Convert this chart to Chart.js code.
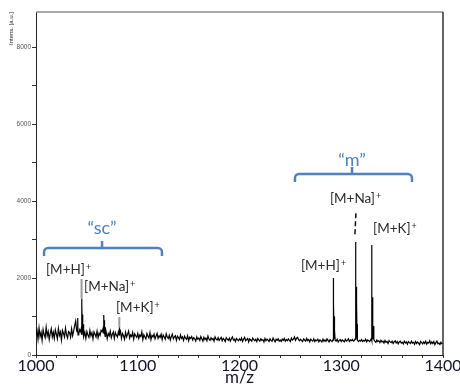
<!DOCTYPE html>
<html>
<head>
<meta charset="utf-8">
<script src="https://cdn.jsdelivr.net/npm/chart.js@4.4.1/dist/chart.umd.min.js"></script>
<style>
  body { margin: 0; background: #fff; }
  #wrap { width: 460px; height: 387px; position: relative; }
</style>
</head>
<body>
<div id="wrap"><canvas id="spectrum"></canvas></div>
<script>
// baseline of the spectrum, one reading per m/z
const baseMz = [
  1000, 1001, 1002, 1003, 1004, 1005, 1006, 1007, 1008, 1009, 1010, 1011, 1012, 1013, 1014, 1015, 1016, 1017, 1018, 1019,
  1020, 1021, 1022, 1023, 1024, 1025, 1026, 1027, 1028, 1029, 1030, 1031, 1032, 1033, 1034, 1035, 1036, 1037, 1038, 1039,
  1040, 1041, 1042, 1043, 1044, 1045, 1046, 1047, 1048, 1049, 1050, 1051, 1052, 1053, 1054, 1055, 1056, 1057, 1058, 1059,
  1060, 1061, 1062, 1063, 1064, 1065, 1066, 1067, 1068, 1069, 1070, 1071, 1072, 1073, 1074, 1075, 1076, 1077, 1078, 1079,
  1080, 1081, 1082, 1083, 1084, 1085, 1086, 1087, 1088, 1089, 1090, 1091, 1092, 1093, 1094, 1095, 1096, 1097, 1098, 1099,
  1100, 1101, 1102, 1103, 1104, 1105, 1106, 1107, 1108, 1109, 1110, 1111, 1112, 1113, 1114, 1115, 1116, 1117, 1118, 1119,
  1120, 1121, 1122, 1123, 1124, 1125, 1126, 1127, 1128, 1129, 1130, 1131, 1132, 1133, 1134, 1135, 1136, 1137, 1138, 1139,
  1140, 1141, 1142, 1143, 1144, 1145, 1146, 1147, 1148, 1149, 1150, 1151, 1152, 1153, 1154, 1155, 1156, 1157, 1158, 1159,
  1160, 1161, 1162, 1163, 1164, 1165, 1166, 1167, 1168, 1169, 1170, 1171, 1172, 1173, 1174, 1175, 1176, 1177, 1178, 1179,
  1180, 1181, 1182, 1183, 1184, 1185, 1186, 1187, 1188, 1189, 1190, 1191, 1192, 1193, 1194, 1195, 1196, 1197, 1198, 1199,
  1200, 1201, 1202, 1203, 1204, 1205, 1206, 1207, 1208, 1209, 1210, 1211, 1212, 1213, 1214, 1215, 1216, 1217, 1218, 1219,
  1220, 1221, 1222, 1223, 1224, 1225, 1226, 1227, 1228, 1229, 1230, 1231, 1232, 1233, 1234, 1235, 1236, 1237, 1238, 1239,
  1240, 1241, 1242, 1243, 1244, 1245, 1246, 1247, 1248, 1249, 1250, 1251, 1252, 1253, 1254, 1255, 1256, 1257, 1258, 1259,
  1260, 1261, 1262, 1263, 1264, 1265, 1266, 1267, 1268, 1269, 1270, 1271, 1272, 1273, 1274, 1275, 1276, 1277, 1278, 1279,
  1280, 1281, 1282, 1283, 1284, 1285, 1286, 1287, 1288, 1289, 1290, 1291, 1292, 1293, 1294, 1295, 1296, 1297, 1298, 1299,
  1300, 1301, 1302, 1303, 1304, 1305, 1306, 1307, 1308, 1309, 1310, 1311, 1312, 1313, 1314, 1315, 1316, 1317, 1318, 1319,
  1320, 1321, 1322, 1323, 1324, 1325, 1326, 1327, 1328, 1329, 1330, 1331, 1332, 1333, 1334, 1335, 1336, 1337, 1338, 1339,
  1340, 1341, 1342, 1343, 1344, 1345, 1346, 1347, 1348, 1349, 1350, 1351, 1352, 1353, 1354, 1355, 1356, 1357, 1358, 1359,
  1360, 1361, 1362, 1363, 1364, 1365, 1366, 1367, 1368, 1369, 1370, 1371, 1372, 1373, 1374, 1375, 1376, 1377, 1378, 1379,
  1380, 1381, 1382, 1383, 1384, 1385, 1386, 1387, 1388, 1389, 1390, 1391, 1392, 1393, 1394, 1395, 1396, 1397, 1398, 1399,
  1400
];
const baseIntens = [
  520, 640, 410, 700, 480, 590, 380, 660, 530, 450, 720, 500, 610, 400, 560, 680, 470, 590, 430, 650,
  540, 420, 690, 510, 600, 390, 640, 560, 470, 700, 520, 440, 610, 580, 460, 680, 500, 620, 760, 880,
  620, 700, 540, 660, 600, 520, 640, 480, 590, 430, 610, 520, 460, 640, 500, 580, 420, 600, 540, 470,
  620, 450, 570, 510, 640, 600, 700, 560, 480, 590, 420, 560, 500, 620, 450, 540, 600, 430, 580, 520,
  470, 600, 540, 620, 430, 560, 500, 410, 590, 470, 540, 620, 440, 520, 480, 590, 410, 550, 500, 460,
  560, 430, 520, 480, 600, 400, 530, 470, 420, 560, 490, 440, 580, 400, 510, 470, 540, 420, 490, 560,
  430, 500, 460, 540, 400, 520, 470, 410, 550, 460, 430, 510, 390, 480, 540, 420, 470, 500, 380, 490,
  450, 400, 520, 430, 470, 380, 490, 440, 410, 500, 370, 460, 430, 480, 390, 450, 420, 360, 470, 410,
  440, 380, 480, 420, 360, 460, 400, 440, 370, 490, 410, 380, 450, 400, 430, 360, 470, 410, 390, 450,
  380, 420, 460, 370, 430, 400, 350, 450, 410, 380, 440, 360, 420, 470, 390, 410, 350, 430, 400, 370,
  420, 380, 440, 350, 410, 460, 370, 400, 430, 340, 420, 390, 360, 440, 400, 370, 410, 350, 430, 390,
  360, 420, 380, 400, 340, 430, 370, 410, 390, 350, 420, 380, 360, 440, 390, 340, 410, 380, 420, 360,
  390, 350, 410, 380, 430, 360, 400, 370, 420, 380, 350, 440, 390, 410, 470, 380, 430, 460, 400, 370,
  410, 380, 350, 420, 390, 360, 430, 370, 400, 340, 410, 380, 360, 420, 350, 390, 370, 410, 340, 390,
  370, 340, 410, 360, 390, 350, 420, 380, 340, 400, 370, 350, 390, 420, 380, 360, 410, 340, 380, 400,
  350, 390, 370, 340, 410, 360, 380, 420, 350, 390, 370, 400, 360, 380, 420, 430, 390, 350, 380, 360,
  400, 350, 380, 360, 410, 340, 390, 370, 350, 400, 380, 410, 400, 360, 330, 390, 350, 370, 320, 380,
  340, 360, 310, 380, 330, 350, 300, 370, 340, 320, 360, 300, 340, 370, 310, 350, 290, 340, 360, 310,
  330, 290, 360, 310, 340, 280, 350, 320, 300, 360, 310, 330, 280, 350, 300, 340, 310, 270, 350, 320,
  290, 340, 300, 360, 280, 330, 310, 370, 290, 340, 300, 350, 270, 320, 360, 290, 310, 270, 330, 290,
  300
];
// peak points: "sc" ions, then "m" ions
const peakMz = [
  1040.6, 1041, 1041.3,
  1044.3, 1044.8, 1045.0, 1045.2, 1045.5, 1045.8, 1046.2, 1046.6,
  1066.4, 1066.8, 1067.0, 1067.3, 1067.7, 1068.1,
  1081.6, 1081.9, 1082.3,
  1291.9, 1292.2, 1292.45, 1292.7, 1292.95, 1293.2, 1293.5, 1293.8,
  1313.9, 1314.2, 1314.45, 1314.7, 1314.95, 1315.2, 1315.5, 1315.8,
  1329.6, 1329.9, 1330.15, 1330.4, 1330.65, 1330.9, 1331.2, 1331.5
];
const peakIntens = [
  600, 960, 520,
  650, 1470, 700, 1300, 640, 1050, 600, 800,
  560, 1040, 620, 900, 580, 720,
  520, 720, 560,
  400, 2000, 700, 1350, 600, 1000, 500, 650,
  430, 2935, 900, 1770, 700, 1300, 600, 800,
  430, 2860, 900, 1500, 650, 1100, 550, 750
];
const xTickLabels = [1000, 1100, 1200, 1300, 1400];
const yTickValues = [0, 1000, 2000, 3000, 4000, 5000, 6000, 7000, 8000];
const yTickLabels = [0, 2000, 4000, 6000, 8000];

// annotation layout (data coordinates)
const ionLabels = [
  { text: '[M+H]', mz: 1009.8, at: 2104 },
  { text: '[M+Na]', mz: 1047.2, at: 1662 },
  { text: '[M+K]', mz: 1078.6, at: 1117 },
  { text: '[M+H]', mz: 1260.4, at: 2208 },
  { text: '[M+Na]', mz: 1288.9, at: 3948 },
  { text: '[M+K]', mz: 1331.2, at: 3169 }
];
const leaders = [
  { mz: 1044.8, from: 1470, to: 1975 },
  { mz: 1081.9, from: 720, to: 990 }
];
const groups = [
  { name: '\u201csc\u201d', from: 1007.9, to: 1123.8, mid: 1064.9, at: 2779, textAt: 3299 },
  { name: '\u201cm\u201d', from: 1254.5, to: 1369.5, mid: 1310.6, at: 4701, textAt: 5065 }
];

const points = baseMz.map((x, i) => ({ x: x, y: baseIntens[i] }))
  .concat(peakMz.map((x, i) => ({ x: x, y: peakIntens[i] })))
  .sort((a, b) => a.x - b.x);

const blue = '#4f81bd';

function drawBrace(ctx, x1, x2, xc, yy) {
  const r = 4;
  ctx.beginPath();
  ctx.moveTo(x1, yy + 8);
  ctx.arcTo(x1, yy, x1 + r, yy, r);
  ctx.lineTo(x2 - r, yy);
  ctx.arcTo(x2, yy, x2, yy + 8, r);
  ctx.lineTo(x2, yy + 8);
  ctx.moveTo(xc, yy);
  ctx.lineTo(xc, yy - 7);
  ctx.stroke();
}

const decor = {
  id: 'decor',
  afterDraw(chart) {
    const { ctx, chartArea: a, scales: { x, y } } = chart;
    ctx.save();
    // frame top / right
    ctx.lineWidth = 1.5;
    ctx.strokeStyle = '#8a8a8a';
    ctx.beginPath(); ctx.moveTo(a.left, a.top); ctx.lineTo(a.right, a.top); ctx.stroke();
    ctx.strokeStyle = '#333';
    ctx.beginPath(); ctx.moveTo(a.right, a.top); ctx.lineTo(a.right, a.bottom); ctx.stroke();

    // grey leader lines on the labelled peaks
    ctx.strokeStyle = '#9a9a9a';
    ctx.lineWidth = 2;
    leaders.forEach(l => {
      const px = x.getPixelForValue(l.mz);
      ctx.beginPath();
      ctx.moveTo(px, y.getPixelForValue(l.from));
      ctx.lineTo(px, y.getPixelForValue(l.to));
      ctx.stroke();
    });

    // dashed mark above the m [M+Na]+ peak
    ctx.strokeStyle = '#111';
    ctx.lineWidth = 1.5;
    ctx.setLineDash([5, 3]);
    ctx.beginPath();
    ctx.moveTo(x.getPixelForValue(1314.4), y.getPixelForValue(3680));
    ctx.lineTo(x.getPixelForValue(1313.4), y.getPixelForValue(3100));
    ctx.stroke();
    ctx.setLineDash([]);

    // braces and group names
    ctx.strokeStyle = blue;
    ctx.lineWidth = 2.5;
    ctx.fillStyle = blue;
    ctx.textAlign = 'center';
    ctx.textBaseline = 'middle';
    ctx.font = '18px Lato';
    groups.forEach(g => {
      drawBrace(ctx, x.getPixelForValue(g.from), x.getPixelForValue(g.to),
        x.getPixelForValue(g.mid), y.getPixelForValue(g.at));
      ctx.fillText(g.name, x.getPixelForValue(g.mid), y.getPixelForValue(g.textAt));
    });

    // ion labels with superscript +
    ctx.fillStyle = '#2b2b2b';
    ctx.textAlign = 'left';
    ctx.textBaseline = 'alphabetic';
    ionLabels.forEach(l => {
      const px = x.getPixelForValue(l.mz);
      const py = y.getPixelForValue(l.at);
      ctx.font = '13.5px Lato';
      ctx.fillText(l.text, px, py);
      const w = ctx.measureText(l.text).width;
      ctx.font = '9px Lato';
      ctx.fillText('+', px + w + 1, py - 4);
    });
    ctx.restore();
  }
};

new Chart(document.getElementById('spectrum'), {
  type: 'line',
  data: {
    datasets: [{
      data: points,
      borderColor: '#000',
      borderWidth: 1.2,
      pointRadius: 0,
      tension: 0
    }]
  },
  options: {
    responsive: true,
    maintainAspectRatio: false,
    animation: false,
    layout: { padding: { top: 12, right: 17, left: 0, bottom: 0 } },
    plugins: { legend: { display: false }, tooltip: { enabled: false } },
    scales: {
      x: {
        type: 'linear',
        min: 1000,
        max: 1400,
        afterFit: s => { s.height = 32; },
        border: { color: '#222', width: 1 },
        grid: { drawOnChartArea: false, tickLength: 3, tickColor: '#333' },
        ticks: {
          stepSize: 20,
          autoSkip: false,
          maxRotation: 0,
          padding: -2,
          color: '#141428',
          font: { family: 'Lato', size: 16 },
          callback: v => xTickLabels.includes(v) ? String(v) : ''
        },
        title: {
          display: true,
          text: 'm/z',
          color: '#141428',
          font: { family: 'Lato', size: 17 },
          padding: { top: 0, bottom: -1 }
        }
      },
      y: {
        min: 0,
        max: 8910,
        afterFit: s => { s.width = 36; },
        afterBuildTicks: s => { s.ticks = yTickValues.map(v => ({ value: v })); },
        border: { color: '#222', width: 1 },
        grid: { drawOnChartArea: false, tickLength: 4, tickColor: '#333' },
        ticks: {
          autoSkip: false,
          padding: 1,
          color: '#555',
          font: { family: 'Liberation Sans', size: 6.5 },
          callback: v => yTickLabels.includes(v) ? String(v) : ''
        },
        title: {
          display: true,
          text: 'Intens. [a.u.]',
          align: 'end',
          color: '#222',
          font: { family: 'Liberation Sans', size: 6 },
          padding: { top: 8, bottom: 0 }
        }
      }
    }
  },
  plugins: [decor]
});
</script>
</body>
</html>
